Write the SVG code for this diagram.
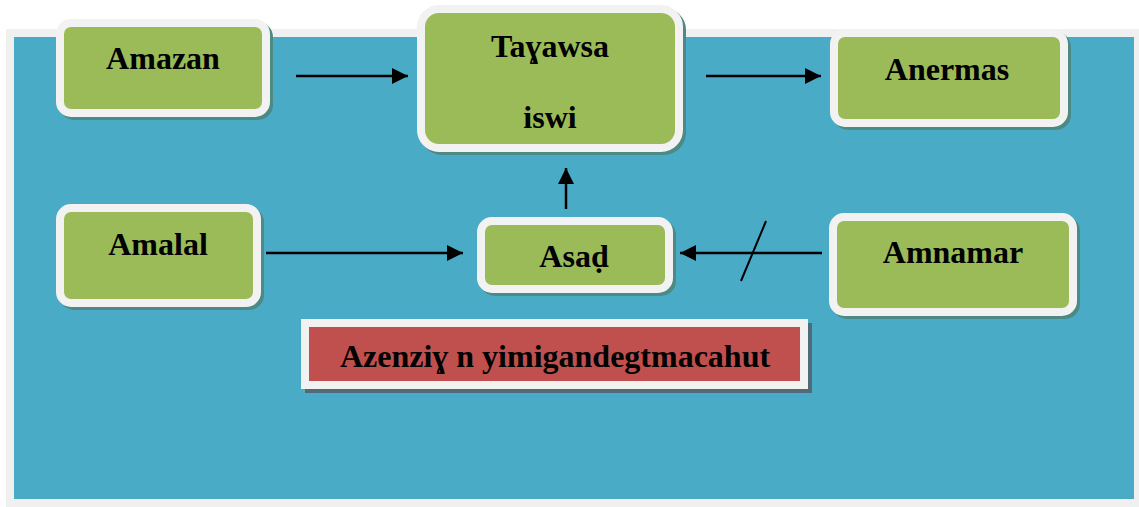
<svg xmlns="http://www.w3.org/2000/svg" width="1139" height="507" viewBox="0 0 1139 507">
  <style>
    .box { fill: #9bbb59; stroke: #f2f2f2; stroke-width: 8; }
    .shadow { fill: #4e8a84; stroke: #4e8a84; stroke-width: 8; }
    .lbl { font-family: "Liberation Serif", "Times New Roman", serif; font-weight: bold; font-size: 32px; fill: #000; text-anchor: middle; }
    .conn { stroke: #000; stroke-width: 2.5; fill: none; }
  </style>
  <defs>
    <marker id="arr" markerUnits="userSpaceOnUse" markerWidth="18" markerHeight="17" refX="16" refY="8" orient="auto">
      <path d="M0,0 L16,8 L0,16 Z" fill="#000"/>
    </marker>
  </defs>

  <rect x="6" y="29" width="1133" height="478" fill="#f0f0f0"/>
  <rect x="14" y="37" width="1120" height="462" fill="#4aabc6"/>

  <g id="node-amazan">
    <rect class="shadow" x="63" y="26" width="206" height="90" rx="11"/>
    <rect class="box" x="60" y="23" width="206" height="90" rx="11"/>
    <text class="lbl" x="163" y="69">Amazan</text>
  </g>

  <g id="node-tayawsa">
    <rect class="shadow" x="424" y="12" width="258" height="139" rx="18"/>
    <rect class="box" x="421" y="9" width="258" height="139" rx="18"/>
    <text class="lbl" x="550" y="57">Taɣawsa</text>
    <text class="lbl" x="550" y="128">iswi</text>
  </g>

  <g id="node-anermas">
    <rect class="shadow" x="837" y="36" width="230" height="90" rx="11"/>
    <rect class="box" x="834" y="33" width="230" height="90" rx="11"/>
    <text class="lbl" x="947" y="80">Anermas</text>
  </g>

  <g id="node-amalal">
    <rect class="shadow" x="63" y="211" width="197" height="95" rx="11"/>
    <rect class="box" x="60" y="208" width="197" height="95" rx="11"/>
    <text class="lbl" x="158" y="255">Amalal</text>
  </g>

  <g id="node-asad">
    <rect class="shadow" x="484" y="224" width="188" height="68" rx="11"/>
    <rect class="box" x="481" y="221" width="188" height="68" rx="11"/>
    <text class="lbl" x="574" y="267">Asaḍ</text>
  </g>

  <g id="node-amnamar">
    <rect class="shadow" x="836" y="220" width="240" height="95" rx="11"/>
    <rect class="box" x="833" y="217" width="240" height="95" rx="11"/>
    <text class="lbl" x="953" y="263">Amnamar</text>
  </g>

  <g id="node-azenziy">
    <rect x="309" y="327" width="499" height="62" fill="#4f6b7a" stroke="#4f6b7a" stroke-width="8"/>
    <rect x="305" y="323" width="499" height="62" fill="#c0504d" stroke="#f2f2f2" stroke-width="8"/>
    <text class="lbl" x="555" y="367">Azenziɣ n yimigandegtmacahut</text>
  </g>

  <g id="connectors">
    <line class="conn" x1="296" y1="76" x2="408" y2="76" marker-end="url(#arr)"/>
    <line class="conn" x1="706" y1="76" x2="821" y2="76" marker-end="url(#arr)"/>
    <line class="conn" x1="266" y1="253" x2="463" y2="253" marker-end="url(#arr)"/>
    <line class="conn" x1="822" y1="253" x2="680" y2="253" marker-end="url(#arr)"/>
    <line class="conn" x1="766" y1="221" x2="741" y2="281" style="stroke-width:2"/>
    <line class="conn" x1="566" y1="209" x2="566" y2="168" marker-end="url(#arr)"/>
  </g>
</svg>
